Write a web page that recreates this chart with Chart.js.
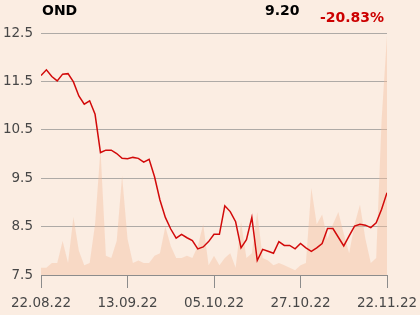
<!DOCTYPE html>
<html>
<head>
<meta charset="utf-8">
<script src="https://cdn.jsdelivr.net/npm/chart.js@4/dist/chart.umd.min.js"></script>
<style>
  body { margin: 0; background: #fbede2; }
  #wrap { position: relative; width: 420px; height: 315px; }
  .hdr { position: absolute; font-family: 'DejaVu Sans', sans-serif; font-weight: bold; font-size: 14px; line-height: 16px; }
</style>
</head>
<body>
<div id="wrap">
  <canvas id="ondChart" width="420" height="315"></canvas>
  <div class="hdr" style="left:42px; top:2px; color:#000;">OND</div>
  <div class="hdr" style="left:265px; top:2px; color:#000;">9.20</div>
  <div class="hdr" style="left:320px; top:9px; color:#cc0000;">-20.83%</div>
</div>
<script>
// Datos (65 sesiones)
var etiquetasX = ['22.08.22', '13.09.22', '05.10.22', '27.10.22', '22.11.22'];
var ticksY = [7.5, 8.5, 9.5, 10.5, 11.5, 12.5];

var precios = [
    11.62, 11.74, 11.60, 11.51, 11.65, 11.66, 11.49, 11.20, 11.03, 11.10,
    10.82, 10.03, 10.08, 10.08, 10.01, 9.91, 9.90, 9.93, 9.91, 9.83,
    9.89, 9.53, 9.05, 8.69, 8.45, 8.26, 8.34, 8.27, 8.21, 8.04,
    8.08, 8.19, 8.34, 8.34, 8.93, 8.81, 8.60, 8.06, 8.23, 8.69,
    7.80, 8.03, 7.99, 7.95, 8.19, 8.11, 8.11, 8.04, 8.15, 8.06,
    7.99, 8.06, 8.15, 8.46, 8.46, 8.28, 8.10, 8.31, 8.51, 8.55,
    8.53, 8.48, 8.58, 8.86, 9.20
];

// Volumen (unidades relativas, 0-100)
var volumen = [
    3, 3, 5, 5, 14, 5, 24, 10, 4, 5,
    21, 52, 8, 7, 14, 41, 15, 5, 6, 5,
    5, 8, 9, 20, 12, 7, 7, 8, 7, 12,
    21, 4, 8, 4, 7, 9, 3, 22, 7, 9,
    26, 7, 6, 4, 5, 4, 3, 2, 4, 5,
    36, 21, 25, 15, 21, 26, 17, 9, 21, 29,
    15, 5, 7, 64, 99
];

Chart.defaults.font.family = "'DejaVu Sans', sans-serif";
Chart.defaults.font.size = 13.5;
Chart.defaults.color = '#474747';

function inicializarGrafico() {
    var ctx = document.getElementById('ondChart');
    new Chart(ctx.getContext('2d'), {
        type: 'line',
        data: {
            datasets: [{
                label: 'OND',
                data: precios.map(function (v, i) { return { x: i, y: v }; }),
                yAxisID: 'y',
                borderColor: '#d20a0a',
                borderWidth: 1.5,
                pointRadius: 0,
                tension: 0,
                fill: false,
                order: 1
            }, {
                label: 'Volumen',
                data: volumen.map(function (v, i) { return { x: i, y: v }; }),
                yAxisID: 'yv',
                borderWidth: 0,
                borderColor: 'rgba(0,0,0,0)',
                backgroundColor: 'rgba(246, 188, 154, 0.4)',
                pointRadius: 0,
                tension: 0,
                fill: 'origin',
                order: 2
            }]
        },
        options: {
            responsive: false,
            animation: false,
            events: [],
            layout: { padding: { top: 33, right: 33, left: 0, bottom: 0 } },
            plugins: {
                legend: { display: false },
                tooltip: { enabled: false }
            },
            scales: {
                x: {
                    type: 'linear',
                    min: 0,
                    max: 64,
                    afterFit: function (s) {
                        s.height = 40;
                        s.paddingLeft = 0;
                        s.paddingRight = 0;
                    },
                    border: { display: true, color: '#8c8c8c', width: 1 },
                    grid: {
                        display: true,
                        drawOnChartArea: false,
                        drawTicks: true,
                        tickLength: 13,
                        color: '#8c8c8c'
                    },
                    ticks: {
                        stepSize: 16,
                        maxRotation: 0,
                        autoSkip: false,
                        padding: 7,
                        callback: function (v) { return etiquetasX[v / 16]; }
                    }
                },
                y: {
                    position: 'left',
                    min: ticksY[0],
                    max: ticksY[ticksY.length - 1],
                    afterFit: function (s) { s.width = 41; },
                    afterBuildTicks: function (s) {
                        s.ticks = ticksY.map(function (v) { return { value: v }; });
                    },
                    border: { display: false },
                    grid: { color: '#aeaaa6', drawTicks: false, lineWidth: 1 },
                    ticks: {
                        padding: 8,
                        callback: function (v) { return v.toFixed(1); }
                    }
                },
                yv: {
                    display: false,
                    min: 0,
                    max: 100
                }
            }
        }
    });
}

inicializarGrafico();
</script>
</body>
</html>
